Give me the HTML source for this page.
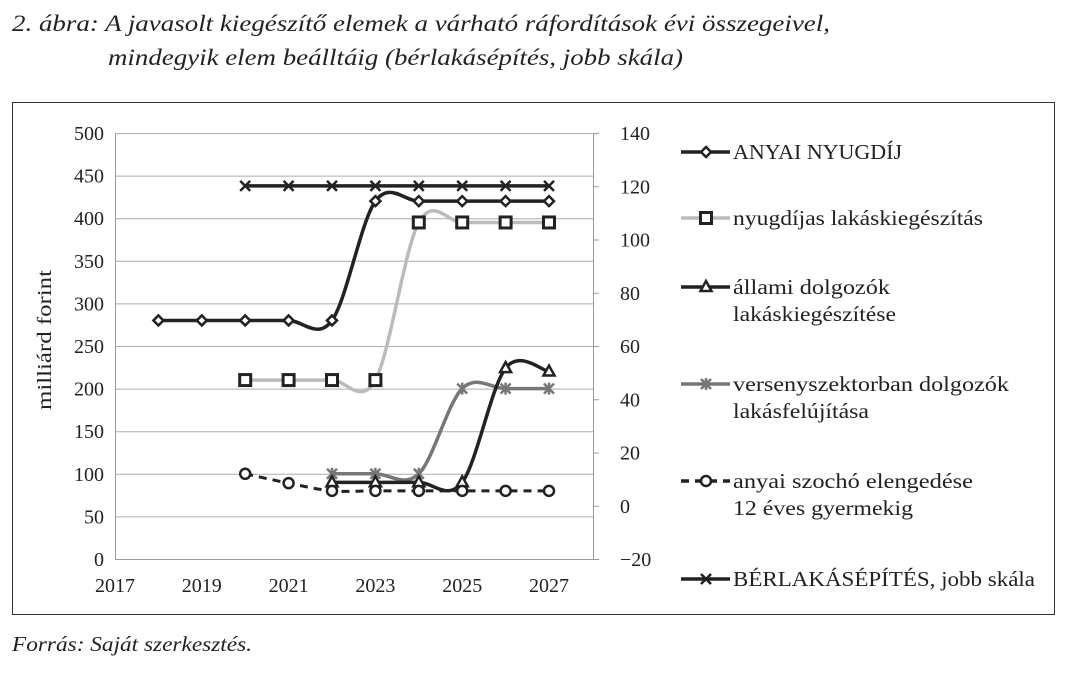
<!DOCTYPE html>
<html><head><meta charset="utf-8"><style>
body{margin:0;background:#fff;width:1068px;height:674px;overflow:hidden;font-family:"Liberation Serif",serif;}
svg{position:absolute;left:0;top:0}
</style></head><body>
<svg id="s" width="1068" height="674" xmlns="http://www.w3.org/2000/svg" font-family="Liberation Serif, serif">
<text x="12" y="31" font-size="23" font-style="italic" fill="#222" textLength="818" lengthAdjust="spacingAndGlyphs">2. ábra: A javasolt kiegészítő elemek a várható ráfordítások évi összegeivel,</text>
<text x="108" y="65" font-size="23" font-style="italic" fill="#222" textLength="575" lengthAdjust="spacingAndGlyphs">mindegyik elem beálltáig (bérlakásépítés, jobb skála)</text>
<rect x="12.5" y="102.5" width="1042" height="512" fill="none" stroke="#333" stroke-width="1"/>
<text x="12" y="651" font-size="21" font-style="italic" fill="#222" textLength="240" lengthAdjust="spacingAndGlyphs">Forrás: Saját szerkesztés.</text>
<g id="grid" stroke="#a8b0a8" stroke-width="1"></g>
<g id="axes" stroke="#999" stroke-width="1"></g>
<g id="labels" font-size="20" fill="#222"></g>
<g id="series"></g>
<g id="legend" font-size="21" fill="#222"></g>
</svg>
<script>
var NS="http://www.w3.org/2000/svg";
function el(p,t,a,txt){var e=document.createElementNS(NS,t);for(var k in a)e.setAttribute(k,a[k]);if(txt!=null)e.textContent=txt;document.getElementById(p).appendChild(e);return e;}
var X0=115,X1=593,Y0=559,Y1=133;
function X(yr){return 115+43.4*(yr-2017);}
function Y(v){return 559-0.852*v;}
for(var v=0;v<=500;v+=50){var y=Y(v);if(v>0)el("grid","line",{x1:X0,x2:X1,y1:y+.5,y2:y+.5});
 el("labels","text",{x:104,y:y+7,"text-anchor":"end"},String(v));}
for(var r=-20,i=0;r<=140;r+=20,i++){var y=559-i*53.25;el("axes","line",{x1:593,x2:599,y1:y+.5,y2:y+.5});
 el("labels","text",{x:620,y:y+7},r<0?"\u221220":String(r));}
el("axes","line",{x1:X0+.5,x2:X0+.5,y1:Y1,y2:Y0});
el("axes","line",{x1:X1+.5,x2:X1+.5,y1:Y1,y2:Y0});
el("axes","line",{x1:X0,x2:X1,y1:Y0+.5,y2:Y0+.5});
[2017,2019,2021,2023,2025,2027].forEach(function(yr){el("labels","text",{x:X(yr),y:592,"text-anchor":"middle"},String(yr));});
el("labels","text",{x:0,y:0,transform:"translate(51,340) rotate(-90)","text-anchor":"middle",textLength:140,lengthAdjust:"spacingAndGlyphs"},"milliárd forint");
function path(pts){var d="M"+pts[0][0]+","+pts[0][1];for(var i=0;i<pts.length-1;i++){var p0=pts[i-1]||pts[i],p1=pts[i],p2=pts[i+1],p3=pts[i+2]||p2;
 d+=" C"+(p1[0]+(p2[0]-p0[0])/6)+","+(p1[1]+(p2[1]-p0[1])/6)+" "+(p2[0]-(p3[0]-p1[0])/6)+","+(p2[1]-(p3[1]-p1[1])/6)+" "+p2[0]+","+p2[1];}return d;}
function marker(g,type,x,y){
 if(type=="d")el(g,"path",{d:"M"+(x-5)+","+y+"L"+x+","+(y-5)+"L"+(x+5)+","+y+"L"+x+","+(y+5)+"Z",fill:"#fff",stroke:"#222","stroke-width":2.5});
 if(type=="s")el(g,"rect",{x:x-5.5,y:y-5.5,width:11,height:11,fill:"#fff",stroke:"#222","stroke-width":3});
 if(type=="t")el(g,"path",{d:"M"+x+","+(y-6)+"L"+(x+5.5)+","+(y+4)+"L"+(x-5.5)+","+(y+4)+"Z",fill:"#fff",stroke:"#222","stroke-width":2.5});
 if(type=="o")el(g,"circle",{cx:x,cy:y,r:5,fill:"#fff",stroke:"#222","stroke-width":2.5});
 if(type=="x"||type=="a"){var c=type=="x"?"#222":"#777";el(g,"path",{d:"M"+(x-5)+","+(y-5)+"L"+(x+5)+","+(y+5)+"M"+(x-5)+","+(y+5)+"L"+(x+5)+","+(y-5)+(type=="a"?"M"+x+","+(y-6)+"L"+x+","+(y+6):""),stroke:c,"stroke-width":2.5,fill:"none"});}
}
var S=[
 {m:"d",c:"#222",w:3.5,yrs:[2018,2019,2020,2021,2022,2023,2024,2025,2026,2027],v:[280,280,280,280,280,420,420,420,420,420]},
 {m:"s",c:"#bbb",w:3.5,yrs:[2020,2021,2022,2023,2024,2025,2026,2027],v:[210,210,210,210,395,395,395,395]},
 {m:"a",c:"#777",w:3.5,yrs:[2022,2023,2024,2025,2026,2027],v:[100,100,100,200,200,200]},
 {m:"t",c:"#222",w:3.5,yrs:[2022,2023,2024,2025,2026,2027],v:[90,90,90,90,224,220]},
 {m:"o",c:"#222",w:3,dash:"8,6",yrs:[2020,2021,2022,2023,2024,2025,2026,2027],v:[100,89,80,80,80,80,80,80]},
 {m:"x",c:"#222",w:3.5,yrs:[2020,2021,2022,2023,2024,2025,2026,2027],v:[438,438,438,438,438,438,438,438]}
];
S.forEach(function(s){var pts=s.yrs.map(function(yr,i){return [X(yr),Y(s.v[i])];});
 var a={d:path(pts),fill:"none",stroke:s.c,"stroke-width":s.w};if(s.dash)a["stroke-dasharray"]=s.dash;el("series","path",a);
 pts.forEach(function(p){marker("series",s.m,p[0],p[1]);});});
var L=[["d","#222",null,152,["ANYAI NYUGDÍJ"],[169]],["s","#bbb",null,218,["nyugdíjas lakáskiegészítás"],[250]],["t","#222",null,287,["állami dolgozók","lakáskiegészítése"],[157,163]],
 ["a","#777",null,384,["versenyszektorban dolgozók","lakásfelújítása"],[276,136]],["o","#222","8,6",481,["anyai szochó elengedése","12 éves gyermekig"],[240,180]],["x","#222",null,579,["BÉRLAKÁSÉPÍTÉS, jobb skála"],[302]]];
L.forEach(function(l){var a={x1:681,x2:730,y1:l[3],y2:l[3],stroke:l[1],"stroke-width":3.5};if(l[2])a["stroke-dasharray"]=l[2];el("legend","line",a);
 marker("legend",l[0],706,l[3]);
 l[4].forEach(function(s,i){el("legend","text",{x:733,y:l[3]+7+i*27,textLength:l[5][i],lengthAdjust:"spacingAndGlyphs"},s);});});
</script>
</body></html>
